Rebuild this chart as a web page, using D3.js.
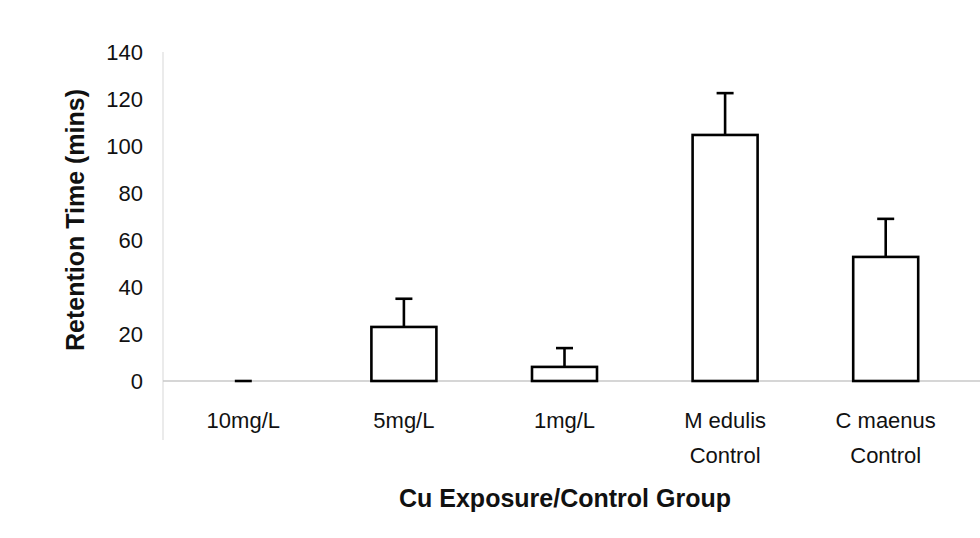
<!DOCTYPE html>
<html>
<head>
<meta charset="utf-8">
<script src="https://cdn.jsdelivr.net/npm/d3@7"></script>
<style>
  html, body { margin: 0; padding: 0; background: #fff; }
  text { font-family: "Liberation Sans", Arial, sans-serif; fill: #111; }
</style>
</head>
<body>
<svg id="chart"></svg>
<script>
// data
const groups = ['10mg/L', '5mg/L', '1mg/L', 'M edulis\nControl', 'C maenus\nControl']
const retention = [0, 23, 6, 104.7, 52.8]
const errors = [0, 12, 8, 17.8, 16.2]
const yTicks = [0, 20, 40, 60, 80, 100, 120, 140]

const width = 980
const height = 538

const svg = d3.select('#chart')
    .attr('width', width)
    .attr('height', height)

const x = d3.scaleBand()
    .domain(groups)
    .range([163, 966])
    .padding(0)

const y = d3.scaleLinear()
    .domain([0, 140])
    .range([381, 52])

const barWidth = 65
const capWidth = 17

// faint axis lines, like the scan
svg.append('line')
    .attr('x1', 163).attr('x2', 163)
    .attr('y1', y(140)).attr('y2', 440)
    .attr('stroke', '#e4e4e4')
    .attr('stroke-width', 1.5)

svg.append('line')
    .attr('x1', 163).attr('x2', width)
    .attr('y1', y(0)).attr('y2', y(0))
    .attr('stroke', '#c8c8c8')
    .attr('stroke-width', 1.5)

// y tick labels
svg.append('g')
    .selectAll('text')
    .data(yTicks)
    .join('text')
    .attr('x', 143)
    .attr('y', d => y(d))
    .attr('dy', '0.36em')
    .attr('text-anchor', 'end')
    .style('font-size', '22px')
    .text(d => d)

const data = groups.map((g, i) => ({ group: g, value: retention[i], err: errors[i] }))

const bar = svg.append('g')
    .selectAll('g')
    .data(data)
    .join('g')
    .attr('transform', d => `translate(${x(d.group) + x.bandwidth() / 2},0)`)

bar.filter(d => d.value > 0)
    .append('rect')
    .attr('x', -barWidth / 2)
    .attr('width', barWidth)
    .attr('y', d => y(d.value))
    .attr('height', d => y(0) - y(d.value))
    .attr('fill', '#fff')
    .attr('stroke', '#000')
    .attr('stroke-width', 2.6)

// error bars (upper only)
bar.append('line')
    .attr('x1', 0).attr('x2', 0)
    .attr('y1', d => y(d.value))
    .attr('y2', d => y(d.value + d.err))
    .attr('stroke', '#000')
    .attr('stroke-width', 2.6)

bar.append('line')
    .attr('x1', -capWidth / 2).attr('x2', capWidth / 2)
    .attr('y1', d => y(d.value + d.err))
    .attr('y2', d => y(d.value + d.err))
    .attr('stroke', '#000')
    .attr('stroke-width', 2.6)

// category labels, split over two lines where needed
bar.append('text')
    .attr('text-anchor', 'middle')
    .style('font-size', '22px')
    .each(function (d) {
        const lines = d.group.split('\n')
        d3.select(this).selectAll('tspan')
            .data(lines)
            .join('tspan')
            .attr('x', 0)
            .attr('y', (l, i) => 428 + i * 35)
            .text(l => l)
    })

// axis titles
svg.append('text')
    .attr('x', 565)
    .attr('y', 507)
    .attr('text-anchor', 'middle')
    .style('font-size', '25px')
    .style('font-weight', 'bold')
    .text('Cu Exposure/Control Group')

svg.append('text')
    .attr('transform', 'translate(84,220) rotate(-90)')
    .attr('text-anchor', 'middle')
    .style('font-size', '25px')
    .style('font-weight', 'bold')
    .text('Retention Time (mins)')
</script>
</body>
</html>
